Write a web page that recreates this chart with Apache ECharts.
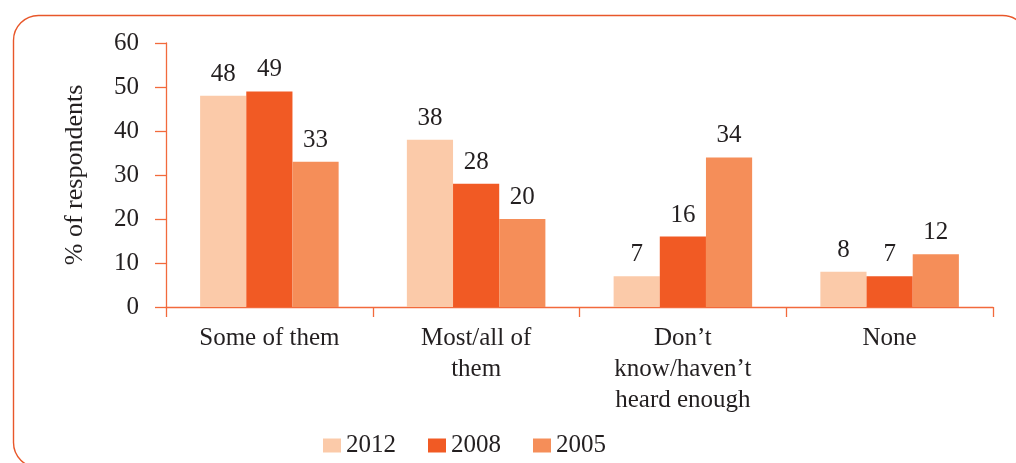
<!DOCTYPE html>
<html>
<head>
<meta charset="utf-8">
<script src="https://cdn.jsdelivr.net/npm/echarts@6/dist/echarts.min.js"></script>
<style>
html,body{margin:0;padding:0;background:#fff;}
#chart{width:1016px;height:463px;}
</style>
</head>
<body>
<div id="chart"></div>
<script>
const categories = ['Some of them', 'Most/all of\nthem', 'Don\u2019t\nknow/haven\u2019t\nheard enough', 'None'];
const seriesNames = ['2012', '2008', '2005'];
const values2012 = [48, 38, 7, 8];
const values2008 = [49, 28, 16, 7];
const values2005 = [33, 20, 34, 12];
const yTicks = [0, 10, 20, 30, 40, 50, 60];

const colors = ['#FBCAA9', '#F15A24', '#F58E59'];
const axisColor = '#F26A3C';
const textColor = '#231F20';
const font = 'Liberation Serif';

const chart = echarts.init(document.getElementById('chart'));
const allValues = [values2012, values2008, values2005];

chart.setOption({
  animation: false,
  backgroundColor: '#fff',
  textStyle: { fontFamily: font },
  graphic: [{
    type: 'rect',
    shape: { x: 13.5, y: 15.5, width: 1014, height: 452, r: 25 },
    style: { fill: 'none', stroke: '#E8572A', lineWidth: 1.4 },
    silent: true,
    z: -1
  }],
  grid: { left: 166, right: 23, top: 43, bottom: 156 },
  legend: {
    data: seriesNames,
    left: 318,
    top: 428,
    itemWidth: 18,
    itemHeight: 14,
    itemGap: 32,
    icon: 'rect',
    textStyle: { fontFamily: font, fontSize: 25, color: textColor, padding: [0, 0, 0, 0] }
  },
  xAxis: {
    type: 'category',
    data: categories,
    axisLine: { lineStyle: { color: axisColor, width: 1.3 } },
    axisTick: { show: true, length: 10, lineStyle: { color: axisColor, width: 1.3 } },
    axisLabel: {
      interval: 0,
      margin: 16,
      fontFamily: font,
      fontSize: 25,
      lineHeight: 31,
      color: textColor
    }
  },
  yAxis: {
    type: 'value',
    min: yTicks[0],
    max: yTicks[yTicks.length - 1],
    interval: 10,
    name: '% of respondents',
    nameLocation: 'middle',
    nameGap: 78,
    nameRotate: 90,
    nameTextStyle: { fontFamily: font, fontSize: 26, color: textColor },
    axisLine: { show: true, lineStyle: { color: axisColor, width: 1.3 } },
    axisTick: { show: true, length: 11, lineStyle: { color: axisColor, width: 1.3 } },
    splitLine: { show: false },
    axisLabel: { margin: 27, fontFamily: font, fontSize: 25, color: textColor }
  },
  series: seriesNames.map((name, i) => ({
    name: name,
    type: 'bar',
    data: allValues[i],
    barGap: '0%',
    barCategoryGap: '33%',
    itemStyle: { color: colors[i] },
    label: {
      show: true,
      position: 'top',
      distance: 9,
      fontFamily: font,
      fontSize: 25,
      color: textColor
    }
  }))
});
</script>
</body>
</html>
